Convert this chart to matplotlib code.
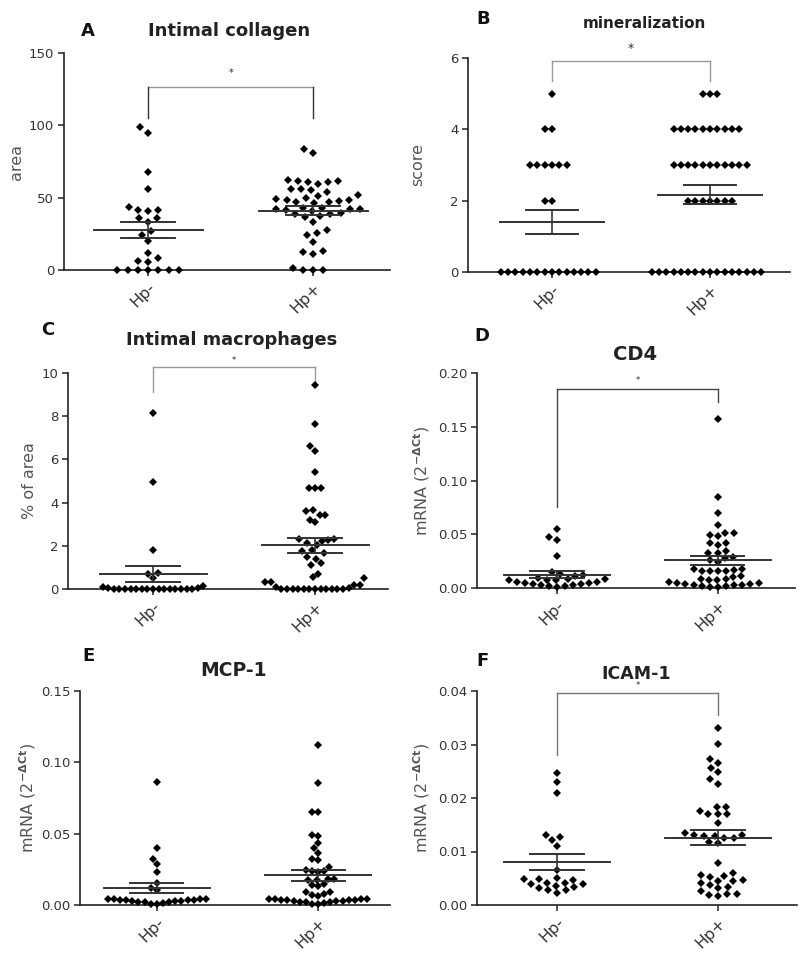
import numpy as np
import matplotlib.pyplot as plt

plt.rcParams['font.family'] = ['DejaVu Sans']
plt.rcParams['mathtext.fontset'] = 'dejavusans'
plt.rcParams['mathtext.default'] = 'regular'

groups = ['Hp-', 'Hp+']

# A - intimal collagen (area)
collagen_neg = [94.9, 98.6, 67.5, 56.2, 41.7, 40.6, 43.8, 41.3, 35.7, 35.9, 33.0, 27.2, 24.2,
                19.8, 8.1, 6.5, 12.0, 5.8, 0, 0, 0, 0, 0, 0, 0]
collagen_pos = [81.1, 83.9, 61.5, 59.4, 61.0, 60.8, 61.5, 62.0, 56.0, 53.9, 55.3, 56.0,
                51.6, 49.8, 48.4, 47.7, 47.0, 46.3, 47.0, 48.4, 49.1, 51.2,
                42.4, 41.2, 39.6, 41.9, 41.9, 40.8, 42.6, 42.8, 38.7, 36.6, 37.3, 38.7,
                33.4, 25.3, 27.6, 24.2, 19.6, 12.7, 11.1, 12.9, 0, 0, 0, 1.2]

# B - mineralization score
mineral_neg = [5, 4, 4, 3, 3, 3, 3, 3, 3, 2, 2] + [0] * 14
mineral_pos = [5] * 3 + [4] * 10 + [3] * 11 + [2] * 7 + [0] * 16

# C - intimal macrophages (% of area)
macro_neg = [8.15, 4.95, 1.82, 0.75, 0.7, 0.5, 0.15, 0.08, 0.05, 0.03,
             0, 0, 0, 0, 0, 0, 0, 0, 0, 0, 0, 0, 0, 0, 0]
macro_pos = [9.46, 7.65, 6.64, 6.4, 5.42, 4.68, 4.68, 4.68,
             3.63, 3.44, 3.1, 3.21, 3.44, 3.67,
             2.33, 2.27, 2.12, 2.02, 2.24, 2.3, 1.68, 1.76, 1.82, 1.39, 1.5, 1.11, 1.19, 0.69,
             0.54, 0.34, 0.19, 0.52, 0.34, 0.19, 0.08, 0.05,
             0, 0, 0, 0, 0, 0, 0, 0, 0, 0, 0, 0]

# D - CD4 mRNA
cd4_neg = [0.0549, 0.0474, 0.045, 0.0295, 0.0149, 0.013, 0.0118, 0.0112, 0.009, 0.0085,
           0.008, 0.0078, 0.0075, 0.007, 0.006, 0.0055, 0.005, 0.0045, 0.004, 0.0035,
           0.003, 0.0025, 0.002, 0.0015, 0.0005]
cd4_pos = [0.1575, 0.0847, 0.0698, 0.0583, 0.0514, 0.0509, 0.0493, 0.0484, 0.0416, 0.0416,
           0.04, 0.0347, 0.0323, 0.0323, 0.029, 0.028, 0.026, 0.0245, 0.018, 0.0175,
           0.017, 0.016, 0.016, 0.016, 0.0155, 0.011, 0.01, 0.008,
           0.0085, 0.0075, 0.007, 0.006, 0.005, 0.0045, 0.004, 0.0035, 0.003, 0.003,
           0.0025, 0.002, 0.0015, 0.001, 0.0005]

# E - MCP-1 mRNA
mcp_neg = [0.0864, 0.0402, 0.0322, 0.0285, 0.0234, 0.0152, 0.0117, 0.0105,
           0.0045, 0.0045, 0.0042, 0.004, 0.0038, 0.0036, 0.0035, 0.0034, 0.003,
           0.0028, 0.0025, 0.0022, 0.002, 0.0018, 0.0015, 0.001, 0.0005]
mcp_pos = [0.112, 0.0853, 0.065, 0.065, 0.049, 0.0484, 0.0437, 0.0397, 0.0362, 0.0322, 0.0315,
           0.0268, 0.0245, 0.0238, 0.0236, 0.0229, 0.0185, 0.018, 0.0175, 0.0178, 0.0145,
           0.014, 0.0133, 0.0093, 0.009, 0.0075, 0.007, 0.006,
           0.0045, 0.0045, 0.0042, 0.004, 0.0038, 0.0036, 0.0035, 0.0034, 0.003,
           0.0028, 0.0025, 0.0022, 0.002, 0.0018, 0.0015, 0.001, 0.0005]

# F - ICAM-1 mRNA
icam_neg = [0.0247, 0.023, 0.0209, 0.0121, 0.0131, 0.0128, 0.011, 0.0065,
            0.0048, 0.0047, 0.0042, 0.0048, 0.005, 0.0039, 0.0034, 0.0032, 0.0036,
            0.0039, 0.0041, 0.0028, 0.0028, 0.0023]
icam_pos = [0.033, 0.0301, 0.0272, 0.0266, 0.0257, 0.0248, 0.0235, 0.0227, 0.0183, 0.0184,
            0.0171, 0.017, 0.0171, 0.0176, 0.0154,
            0.0131, 0.0129, 0.0125, 0.0134, 0.0125, 0.0129, 0.0131, 0.0115, 0.0118,
            0.0079, 0.0059, 0.0056, 0.0052, 0.0045, 0.0042, 0.0037, 0.0045, 0.0047, 0.0055,
            0.0034, 0.0027, 0.0021, 0.0017, 0.0019, 0.0021, 0.0031]

W, H = 800, 958


def fx(px):
    return px / W


def fy(py):
    return 1 - py / H


def swarm_x(ax, xc, vals, dx, dy):
    # simple beeswarm in pixel space, lowest values placed first nearest the centre
    pix = ax.transData.transform(np.column_stack([np.full(len(vals), xc), vals]))
    x0 = pix[0, 0]
    ys = pix[:, 1]
    offs = np.zeros(len(vals))
    placed = []
    for i in np.argsort(ys, kind='stable'):
        y = ys[i]
        near = [(px, py) for px, py in placed if abs(py - y) < dy]
        cands = [0.0]
        for px, py in near:
            w = dx * np.sqrt(1 - ((py - y) / dy) ** 2)
            cands += [px + w, px - w]
        cands.sort(key=lambda c: (round(abs(c), 6), c))
        for c in cands:
            if all(((c - px) / dx) ** 2 + ((y - py) / dy) ** 2 >= 0.999 for px, py in near):
                break
        placed.append((c, y))
        offs[i] = c
    pts = ax.transData.inverted().transform(np.column_stack([x0 + offs, ys]))
    return pts[:, 0]


mrna = r'mRNA (2$^{\mathbf{-\Delta Ct}}$)'

panels = [
    dict(letter='A', title='Intimal collagen', tsize=13, data=(collagen_neg, collagen_pos),
         rect=(64, 53, 390, 270), xlim=(-0.51, 1.466), yticks=[0, 50, 100, 150], fmt='{:.0f}',
         ylabel='area', ylab_px=40, letter_xy=(88, 31), title_xy=(229, 31),
         sw=[(10.3, 8), (10.3, 8)],
         bracket=(105, 126.5, 105, 136, '#9a9a9a', '#333333', 7)),
    dict(letter='B', title='mineralization', tsize=11, data=(mineral_neg, mineral_pos),
         rect=(468, 58, 790, 272), xlim=(-0.531, 1.506), yticks=[0, 2, 4, 6], fmt='{:.0f}',
         ylabel='score', ylab_px=43, letter_xy=(483, 19), title_xy=(644, 24),
         sw=[(7.3, 7), (7.3, 7)],
         bracket=(5.35, 5.92, 5.35, 6.28, '#9a9a9a', '#9a9a9a', 9)),
    dict(letter='C', title='Intimal macrophages', tsize=12.8, data=(macro_neg, macro_pos),
         rect=(68, 373, 388, 589), xlim=(-0.525, 1.45), yticks=[0, 2, 4, 6, 8, 10], fmt='{:.0f}',
         ylabel='% of area', ylab_px=31, letter_xy=(48, 330), title_xy=(232, 340),
         sw=[(5.6, 9), (5.6, 13)],
         bracket=(9.13, 10.29, 9.6, 10.6, '#9a9a9a', '#9a9a9a', 6)),
    dict(letter='D', title='CD4', tsize=14, data=(cd4_neg, cd4_pos),
         rect=(477, 373, 795, 588), xlim=(-0.497, 1.479),
         yticks=[0, 0.05, 0.10, 0.15, 0.20], fmt='{:.2f}',
         ylabel=mrna, ylab_px=45, letter_xy=(482, 336),
         title_xy=(635, 355), sw=[(8.2, 7), (8.2, 7)],
         bracket=(0.0756, 0.185, 0.173, 0.193, '#444444', '#444444', 6)),
    dict(letter='E', title='MCP-1', tsize=13.5, data=(mcp_neg, mcp_pos),
         rect=(80, 691, 390, 905), xlim=(-0.477, 1.446), yticks=[0, 0.05, 0.10, 0.15],
         fmt='{:.2f}', ylabel=mrna, ylab_px=42,
         letter_xy=(89, 656), title_xy=(233, 670), sw=[(6.2, 6.5), (6.2, 6.5)],
         bracket=None),
    dict(letter='F', title='ICAM-1', tsize=12.5, data=(icam_neg, icam_pos),
         rect=(477, 691, 797, 905), xlim=(-0.497, 1.491),
         yticks=[0, 0.01, 0.02, 0.03, 0.04], fmt='{:.2f}',
         ylabel=mrna, ylab_px=45, letter_xy=(482, 661),
         title_xy=(636, 674), sw=[(9.5, 7), (9.5, 7)],
         bracket=(0.028, 0.0396, 0.0355, 0.041, '#777777', '#777777', 6)),
]

fig = plt.figure(figsize=(W / 100, H / 100), dpi=100)

for p in panels:
    x0, y0, x1, y1 = p['rect']
    ax = fig.add_axes([fx(x0), fy(y1), (x1 - x0) / W, (y1 - y0) / H])
    ax.set_xlim(*p['xlim'])
    ax.set_ylim(0, p['yticks'][-1])
    for s in ('top', 'right'):
        ax.spines[s].set_visible(False)
    for s in ('left', 'bottom'):
        ax.spines[s].set_linewidth(1.2)
        ax.spines[s].set_color('#222222')
    ax.set_yticks(p['yticks'])
    ax.set_yticklabels([p['fmt'].format(t) for t in p['yticks']])
    ax.set_xticks([0, 1])
    ax.set_xticklabels(groups, rotation=45, ha='right', va='top', rotation_mode='anchor',
                       fontsize=11.5)
    ax.tick_params(direction='out', length=4, width=1.1, color='#222222',
                   labelcolor='#333333', pad=3)
    ax.tick_params(axis='y', labelsize=9.5)
    ax.set_ylabel(p['ylabel'], fontsize=11.5, color='#555555')
    ax.yaxis.set_label_coords(-p['ylab_px'] / (x1 - x0), 0.5)

    for xc, vals in enumerate(p['data']):
        dx, dy = p['sw'][xc]
        vals = np.asarray(vals, dtype=float)
        xs = swarm_x(ax, xc, vals, dx, dy)
        ax.plot(xs, vals, 'D', color='black', ms=3.7, mew=0, clip_on=False, zorder=3)
        m = vals.mean()
        se = vals.std(ddof=1) / np.sqrt(len(vals))
        lc = '#333333'
        ax.plot([xc - 0.33, xc + 0.33], [m, m], color=lc, lw=1.4, zorder=4)
        ax.plot([xc - 0.165, xc + 0.165], [m + se, m + se], color=lc, lw=1.4, zorder=4)
        ax.plot([xc - 0.165, xc + 0.165], [m - se, m - se], color=lc, lw=1.4, zorder=4)
        ax.plot([xc, xc], [m - se, m + se], color=lc, lw=1.2, zorder=4)

    if p['bracket'] is not None:
        yl, yt, yr, ys, hc, vc, fs = p['bracket']
        ax.plot([0, 1], [yt, yt], color=hc, lw=1.0, clip_on=False)
        ax.plot([0, 0], [yl, yt], color=vc, lw=1.0, clip_on=False)
        ax.plot([1, 1], [yr, yt], color=vc, lw=1.0, clip_on=False)
        ax.text(0.5, ys, '*', ha='center', va='center', fontsize=fs, color='#333333',
                clip_on=False)

    fig.text(fx(p['letter_xy'][0]), fy(p['letter_xy'][1]), p['letter'], fontsize=13,
             fontweight='bold', ha='center', va='center', color='#111111')
    fig.text(fx(p['title_xy'][0]), fy(p['title_xy'][1]), p['title'], fontsize=p['tsize'],
             fontweight='bold', ha='center', va='center', color='#222222')

fig.savefig('out.png', dpi=100)
